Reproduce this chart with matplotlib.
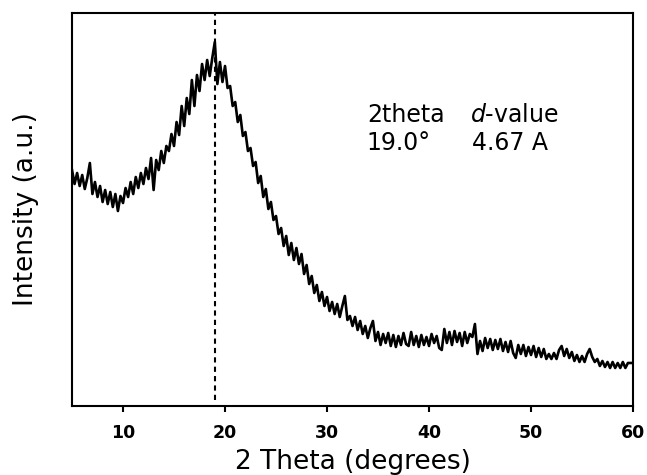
import numpy as np
import matplotlib
matplotlib.use('Agg')
import matplotlib.pyplot as plt

plt.rcParams['font.family'] = ['DejaVu Sans']
plt.rcParams['mathtext.fontset'] = 'dejavusans'

############ [Data] ############
two_theta_start = 5.0
two_theta_stop = 60.0

intensity = [
    # 5.00 - 9.75
    236, 222, 233, 220, 231, 217, 228, 243, 212, 224, 209, 220, 204, 216, 202, 214, 199, 212, 195, 210,
    # 10.00 - 14.75
    203, 218, 209, 224, 212, 229, 218, 233, 222, 238, 227, 248, 216, 246, 236, 255, 243, 260, 255, 272,
    # 15.00 - 19.75
    260, 284, 271, 300, 280, 308, 292, 326, 300, 331, 315, 342, 326, 346, 330, 348, 364, 322, 344, 324,
    # 20.00 - 24.75
    340, 318, 320, 300, 304, 284, 291, 270, 274, 255, 258, 240, 244, 223, 230, 209, 217, 197, 204, 186,
    # 25.00 - 29.75
    190, 172, 178, 160, 170, 151, 163, 146, 158, 142, 152, 132, 141, 122, 130, 113, 121, 105, 114, 100,
    # 30.00 - 34.75
    109, 95, 104, 92, 102, 89, 100, 110, 86, 90, 80, 89, 76, 85, 72, 80, 68, 78, 85, 65,
    # 35.00 - 39.75
    74, 61, 72, 63, 73, 60, 71, 59, 70, 61, 73, 62, 60, 74, 61, 70, 59, 71, 61, 69,
    # 40.00 - 44.75
    60, 72, 63, 70, 58, 56, 77, 63, 74, 61, 75, 64, 73, 60, 74, 63, 72, 69, 82, 52,
    # 45.00 - 49.75
    65, 55, 68, 58, 67, 56, 66, 57, 67, 55, 64, 54, 65, 53, 48, 61, 52, 61, 50, 59,
    # 50.00 - 54.75
    51, 60, 49, 58, 49, 57, 47, 52, 47, 53, 47, 56, 60, 50, 57, 48, 54, 45, 51, 44,
    # 55.00 - 59.75
    50, 44, 52, 57, 49, 44, 47, 40, 45, 39, 44, 38, 44, 38, 43, 38, 44, 38, 43, 43,
    # 60.00
    43,
]
two_theta = np.linspace(two_theta_start, two_theta_stop, len(intensity))

peak_position = 19.0
x_ticks = [10, 20, 30, 40, 50, 60]
header = [r'2theta', r'$\mathit{d}$-value']
values = [u'19.0\u00b0', '4.67 A']

############ [Figure] ############
fig = plt.figure(figsize=(6.47, 4.75), dpi=100)
ax = fig.add_axes([0.1113, 0.1453, 0.8671, 0.8273])

ax.plot(two_theta, intensity, color='black', lw=1.9)
ax.plot([peak_position, peak_position], [6, 393], color='black', lw=1.5,
        linestyle=(0, (2.5, 2)))

ax.text(33.9, 284, header[0], fontsize=17, ha='left', va='baseline')
ax.text(44.0, 284, header[1], fontsize=17, ha='left', va='baseline')
ax.text(33.9, 256, values[0], fontsize=17, ha='left', va='baseline')
ax.text(44.2, 256, values[1], fontsize=17, ha='left', va='baseline')

ax.set_xlim(5, 60)
ax.set_ylim(0, 393)
ax.set_xticks(x_ticks)
ax.set_yticks([])
ax.tick_params(axis='x', direction='out', length=4, width=1.5, pad=9,
               labelsize=12.5)
for lab in ax.get_xticklabels():
    lab.set_fontweight('bold')
for sp in ax.spines.values():
    sp.set_linewidth(1.5)

ax.set_xlabel('2 Theta (degrees)', fontsize=19, labelpad=5)
ax.set_ylabel('Intensity (a.u.)', fontsize=19, labelpad=24)

fig.savefig('out.png', dpi=100)
